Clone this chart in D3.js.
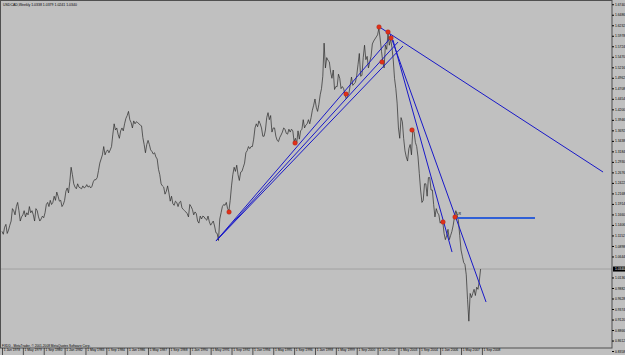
<!DOCTYPE html>
<html>
<head>
<meta charset="utf-8">
<script src="https://cdn.jsdelivr.net/npm/d3@7"></script>
<style>
  html, body { margin: 0; padding: 0; background: #c0c0c0; }
  svg { display: block; font-family: "Liberation Sans", Arial, sans-serif; }
</style>
</head>
<body>
<svg width="625" height="355"></svg>
<script>
// USDCAD weekly, sampled as monthly closes Jan 1978 .. Aug 2008 (bar index = month)
const closes = [
  1.125, 1.118, 1.135, 1.142, 1.120, 1.128, 1.140, 1.150, 1.180, 1.175, 1.165, 1.185, // 1978
  1.195, 1.175, 1.150, 1.160, 1.165, 1.175, 1.160, 1.170, 1.165, 1.185, 1.170, 1.175, // 1979
  1.165, 1.150, 1.180, 1.175, 1.160, 1.150, 1.155, 1.162, 1.158, 1.170, 1.190, 1.195, // 1980
  1.185, 1.200, 1.190, 1.195, 1.210, 1.200, 1.220, 1.210, 1.198, 1.200, 1.185, 1.190, // 1981
  1.200, 1.222, 1.230, 1.218, 1.245, 1.280, 1.262, 1.240, 1.232, 1.228, 1.240, 1.232, // 1982
  1.230, 1.228, 1.235, 1.230, 1.232, 1.238, 1.232, 1.235, 1.230, 1.234, 1.245, 1.250, // 1983
  1.250, 1.255, 1.272, 1.290, 1.300, 1.310, 1.330, 1.310, 1.318, 1.322, 1.315, 1.322, // 1984
  1.330, 1.360, 1.385, 1.370, 1.375, 1.360, 1.350, 1.368, 1.375, 1.368, 1.385, 1.398, // 1985
  1.405, 1.415, 1.395, 1.388, 1.375, 1.392, 1.385, 1.390, 1.388, 1.385, 1.382, 1.380, // 1986
  1.352, 1.335, 1.315, 1.335, 1.345, 1.335, 1.322, 1.318, 1.312, 1.315, 1.305, 1.300, // 1987
  1.275, 1.262, 1.240, 1.235, 1.232, 1.215, 1.222, 1.235, 1.218, 1.198, 1.210, 1.192, // 1988
  1.188, 1.198, 1.195, 1.185, 1.195, 1.198, 1.182, 1.178, 1.175, 1.172, 1.168, 1.160, // 1989
  1.190, 1.185, 1.178, 1.165, 1.172, 1.168, 1.150, 1.145, 1.162, 1.155, 1.162, 1.160, // 1990
  1.155, 1.152, 1.162, 1.148, 1.140, 1.145, 1.150, 1.138, 1.122, 1.120, 1.103, 1.155, // 1991
  1.170, 1.185, 1.190, 1.188, 1.195, 1.180, 1.175, 1.200, 1.235, 1.262, 1.280, 1.270, // 1992
  1.285, 1.262, 1.248, 1.268, 1.270, 1.280, 1.290, 1.315, 1.320, 1.330, 1.325, 1.330, // 1993
  1.330, 1.348, 1.375, 1.385, 1.378, 1.392, 1.385, 1.375, 1.355, 1.355, 1.370, 1.400, // 1994
  1.412, 1.395, 1.405, 1.365, 1.375, 1.375, 1.355, 1.345, 1.342, 1.352, 1.358, 1.365, // 1995
  1.375, 1.372, 1.362, 1.360, 1.372, 1.365, 1.372, 1.368, 1.342, 1.350, 1.338, 1.368, // 1996
  1.348, 1.368, 1.372, 1.395, 1.375, 1.382, 1.385, 1.395, 1.385, 1.400, 1.418, 1.430, // 1997
  1.445, 1.425, 1.415, 1.432, 1.455, 1.470, 1.500, 1.580, 1.520, 1.545, 1.538, 1.535, // 1998
  1.510, 1.495, 1.515, 1.468, 1.475, 1.475, 1.505, 1.495, 1.470, 1.475, 1.470, 1.455, // 1999
  1.445, 1.452, 1.458, 1.478, 1.498, 1.478, 1.482, 1.485, 1.502, 1.528, 1.555, 1.500, // 2000
  1.502, 1.545, 1.575, 1.540, 1.548, 1.520, 1.535, 1.548, 1.578, 1.585, 1.590, 1.595, // 2001
  1.600, 1.616, 1.590, 1.560, 1.535, 1.520, 1.575, 1.565, 1.605, 1.575, 1.590, 1.570, // 2002
  1.540, 1.495, 1.470, 1.435, 1.375, 1.350, 1.400, 1.390, 1.350, 1.320, 1.305, 1.295, // 2003
  1.325, 1.335, 1.310, 1.370, 1.365, 1.340, 1.330, 1.305, 1.265, 1.225, 1.195, 1.200, // 2004
  1.240, 1.240, 1.210, 1.255, 1.255, 1.225, 1.225, 1.190, 1.160, 1.180, 1.170, 1.165, // 2005
  1.145, 1.150, 1.148, 1.120, 1.105, 1.115, 1.130, 1.105, 1.115, 1.125, 1.140, 1.160, // 2006
  1.175, 1.165, 1.150, 1.115, 1.080, 1.065, 1.050, 1.045, 1.020, 0.960, 0.908, 0.975, // 2007
  0.965, 0.975, 0.985, 0.970, 0.990, 0.985, 1.005, 1.034                              // 2008
];

const bid = 1.0340;

// pivot markers: [bar index, price]
const pivots = [
  [174.1, 1.1718], [224.7, 1.3386], [263.8, 1.4570], [289.1, 1.6190],
  [296.0, 1.6069], [298.3, 1.5924], [291.4, 1.5344], [314.4, 1.3700],
  [338.2, 1.1476], [347.4, 1.1597]
];

// trend lines: [bar0, price0, bar1, price1]
const trendLines = [
  [164.1, 1.1017, 299.1, 1.5972],
  [164.1, 1.1017, 303.7, 1.5827],
  [164.1, 1.1017, 307.5, 1.5731],
  [290.6, 1.6166, 460.9, 1.2685],
  [297.5, 1.6021, 371.2, 0.9543],
  [299.8, 1.5876, 345.1, 1.0751]
];
const levelLine = [347.4, 408.7, 1.1573];

const yTicks = [
  1.6740, 1.6486, 1.6232, 1.5978, 1.5724, 1.5470, 1.5216, 1.4962, 1.4708, 1.4454,
  1.4200, 1.3946, 1.3692, 1.3438, 1.3184, 1.2930, 1.2676, 1.2422, 1.2168, 1.1914,
  1.1660, 1.1406, 1.1152, 1.0898, 1.0644, 1.0390, 1.0136, 0.9882, 0.9628, 0.9374,
  0.9120, 0.8866, 0.8612, 0.8358
];

const xTickBars = [0, 16, 32, 48, 64, 80, 96, 112, 128, 144, 160, 176, 192, 208, 224, 240, 256, 272, 288, 304, 320, 336, 352, 368];
const xTickLabels = [
  "1 Jan 1978", "1 May 1979", "1 Sep 1980", "1 Jan 1982", "1 May 1983", "1 Sep 1984",
  "1 Jan 1986", "1 May 1987", "1 Sep 1988", "1 Jan 1990", "1 May 1991", "1 Sep 1992",
  "1 Jan 1994", "1 May 1995", "1 Sep 1996", "1 Jan 1998", "1 May 1999", "1 Sep 2000",
  "1 Jan 2002", "1 May 2003", "1 Sep 2004", "1 Jan 2006", "1 May 2007", "1 Sep 2008"
];

const svg = d3.select("svg");
const plotRight = 612, plotBottom = 348;

const x = d3.scaleLinear().domain([0, 368]).range([2, 481.9]);
const y = d3.scaleLinear().domain([0.906, 1.619]).range([322, 27]);

svg.append("rect").attr("width", 625).attr("height", 355).attr("fill", "#c0c0c0");

// bid line
svg.append("line")
  .attr("x1", 0).attr("x2", plotRight)
  .attr("y1", y(bid)).attr("y2", y(bid))
  .attr("stroke", "#9a9a9a").attr("stroke-width", 0.8);

// price
svg.append("path")
  .datum(closes)
  .attr("fill", "none")
  .attr("stroke", "#2a2a2a")
  .attr("stroke-width", 0.7)
  .attr("d", d3.line().x((d, i) => x(i)).y(d => y(d)));

// trend lines
svg.append("g").selectAll("line")
  .data(trendLines)
  .join("line")
  .attr("x1", d => x(d[0])).attr("y1", d => y(d[1]))
  .attr("x2", d => x(d[2])).attr("y2", d => y(d[3]))
  .attr("stroke", "#1818c8").attr("stroke-width", 1);

svg.append("line")
  .attr("x1", x(levelLine[0])).attr("x2", x(levelLine[1]))
  .attr("y1", y(levelLine[2])).attr("y2", y(levelLine[2]))
  .attr("stroke", "#2f5fd6").attr("stroke-width", 2);

svg.append("text")
  .attr("x", x(levelLine[0]) + 1.5).attr("y", y(levelLine[2]) - 3)
  .attr("font-size", 3.5).attr("fill", "#000")
  .text("LR");

// pivot markers
svg.append("g").selectAll("circle")
  .data(pivots)
  .join("circle")
  .attr("cx", d => x(d[0])).attr("cy", d => y(d[1]))
  .attr("r", 2.3)
  .attr("fill", "#e0301a").attr("stroke", "#a02010").attr("stroke-width", 0.4);

// frame
svg.append("rect")
  .attr("x", 0.5).attr("y", 0.5)
  .attr("width", plotRight - 0.5).attr("height", plotBottom - 0.5)
  .attr("fill", "none").attr("stroke", "#505050").attr("stroke-width", 1);

// y axis (the tick under the bid box is hidden, as the terminal does)
const shownTicks = yTicks.filter(v => Math.abs(y(v) - y(bid)) > 4.5);
const yAxis = svg.append("g")
  .attr("transform", `translate(${plotRight},0)`)
  .call(d3.axisRight(y).tickValues(shownTicks).tickSize(2).tickPadding(1).tickFormat(d3.format(".4f")));
yAxis.select(".domain").remove();
yAxis.selectAll("line").attr("stroke", "#000");
yAxis.selectAll("text").attr("font-size", 3.3).attr("fill", "#000").attr("font-family", "Liberation Sans, Arial, sans-serif");

// bid label
svg.append("rect")
  .attr("x", plotRight + 1).attr("y", y(bid) - 2.5)
  .attr("width", 12).attr("height", 5).attr("fill", "#000");
svg.append("text")
  .attr("x", plotRight + 3).attr("y", y(bid) + 1.2)
  .attr("font-size", 3.3).attr("fill", "#fff")
  .text(d3.format(".4f")(bid));

// x axis
const xAxis = svg.append("g")
  .attr("transform", `translate(0,${plotBottom})`)
  .call(d3.axisBottom(x).tickValues(xTickBars).tickSize(7).tickPadding(0)
    .tickFormat((d, i) => xTickLabels[i]));
xAxis.select(".domain").remove();
xAxis.selectAll("line").attr("stroke", "#000").attr("stroke-width", 0.6);
xAxis.selectAll("text")
  .attr("text-anchor", "start")
  .attr("font-size", 3.3)
  .attr("fill", "#000")
  .attr("font-family", "Liberation Sans, Arial, sans-serif")
  .attr("y", 2.5).attr("dy", 0).attr("dx", 1.2);

// captions
svg.append("text")
  .attr("x", 3).attr("y", 6)
  .attr("font-size", 3.5).attr("fill", "#000")
  .text("USDCAD,Weekly  1.0338 1.0379 1.0241 1.0340");

svg.append("text")
  .attr("x", 2).attr("y", 346.5)
  .attr("font-size", 3.2).attr("fill", "#000")
  .text("FXDD - MetaTrader, \u00a9 2001-2008 MetaQuotes Software Corp.");
</script>
</body>
</html>
